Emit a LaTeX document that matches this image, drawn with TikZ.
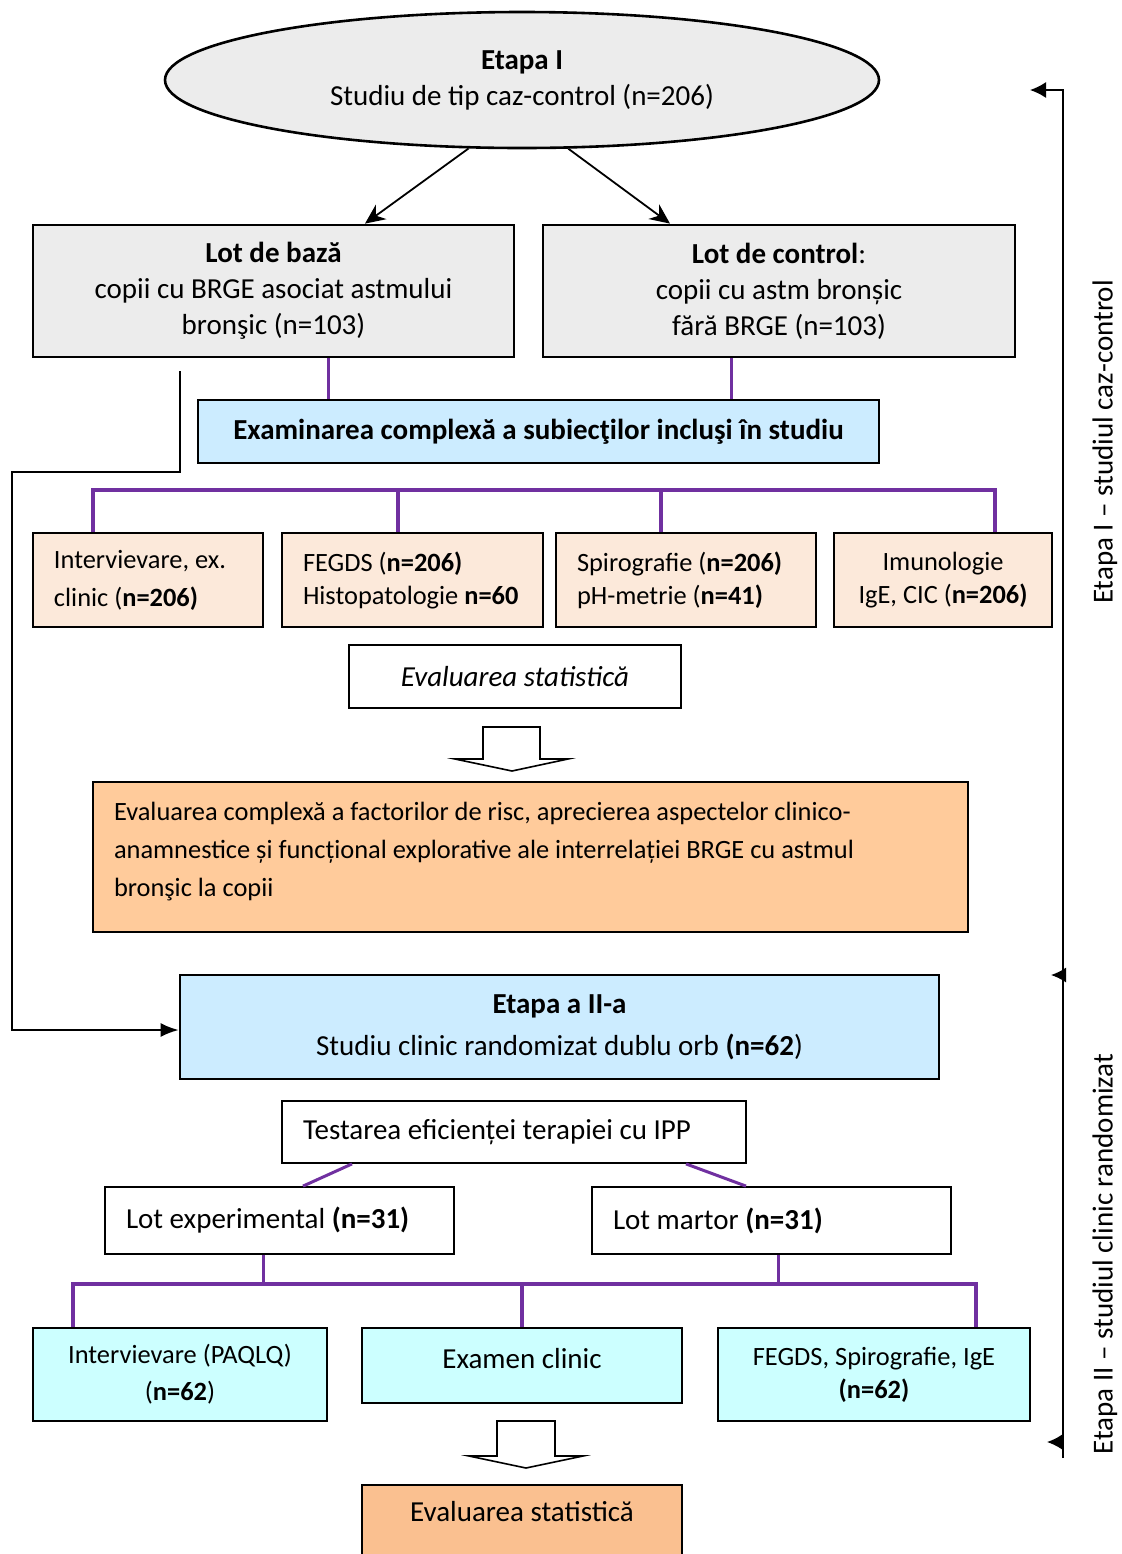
\documentclass[tikz,border=0pt]{standalone}
\usepackage{fontspec}
\setmainfont{Carlito}
\usetikzlibrary{shapes.geometric,calc,arrows.meta}
\definecolor{marble}{RGB}{236,236,236}
\definecolor{skyfill}{RGB}{204,236,255}
\definecolor{peachfill}{RGB}{252,233,218}
\definecolor{orangefill}{RGB}{255,203,155}
\definecolor{cyanfill}{RGB}{204,255,255}
\definecolor{statfill}{RGB}{250,192,144}
\definecolor{linkpurple}{RGB}{112,48,160}
\newcommand{\bigfont}{\fontsize{14.5}{18}\selectfont}
\newcommand{\smallfont}{\fontsize{13.2}{19}\selectfont}
\tikzset{
  box/.style={draw, line width=0.9pt, inner sep=0pt, align=center, font=\bigfont},
  leftbox/.style={box, align=flush left, inner xsep=10.5pt,
    execute at begin node={\spaceskip=0pt\xspaceskip=0pt\relax}},
  thickbox/.style={box, line width=1.4pt},
  purplelink/.style={draw=linkpurple, line width=1.5pt},
  purplebus/.style={draw=linkpurple, line width=2.2pt},
  blockarrow/.style={draw, line width=0.8pt, fill=white},
  sidearrow/.style={-{Latex[length=8pt,width=8pt]}, line width=0.8pt},
  splitarrow/.style={-{Stealth[length=10pt,width=9pt]}, line width=0.9pt}
}
\begin{document}
\begin{tikzpicture}[x=0.5pt,y=-0.5pt]
    \useasboundingbox (0,0) rectangle (1122,1554);
    % Etapa I
    \node[thickbox, ellipse, fill=marble, line width=1.3pt, minimum width=357pt, minimum height=68pt] (etapa1) at (522,80) {\textbf{Etapa I}\\Studiu de tip caz-control (n=206)};
    \node[thickbox, fill=marble, minimum width=240.5pt, minimum height=66pt] (lotbaza) at (273.5,291) {\textbf{Lot de bază}\\copii cu BRGE asociat astmului\\bronşic (n=103)};
    \node[thickbox, fill=marble, minimum width=236pt, minimum height=66pt] (lotcontrol) at (779,291) {\textbf{Lot de control}:\\copii cu astm bronșic\\fără BRGE (n=103)};
    \node[thickbox, fill=skyfill, minimum width=340.5pt, minimum height=31.5pt] (exam) at (538.5,431.5) {\textbf{Examinarea complexă a subiecţilor incluşi în studiu}};
    \node[leftbox, fill=peachfill, font=\smallfont, text width=94pt, minimum height=47pt] (interv) at (148,580) {Intervievare, ex.\\clinic (\textbf{n=206)}};
    \node[leftbox, fill=peachfill, font=\fontsize{13.2}{16.5}\selectfont, text width=109.5pt, minimum height=47pt] (fegds) at (412.5,580) {FEGDS (\textbf{n=206)}\\Histopatologie \textbf{n=60}};
    \node[leftbox, fill=peachfill, font=\fontsize{13.2}{16.5}\selectfont, text width=109pt, minimum height=47pt] (spiro) at (686,580) {Spirografie (\textbf{n=206)}\\pH-metrie (\textbf{n=41)}};
    \node[box, fill=peachfill, font=\fontsize{13.2}{16.5}\selectfont, minimum width=109pt, minimum height=47pt] (imuno) at (943,580) {Imunologie\\IgE, CIC (\textbf{n=206)}};
    \node[box, font=\bigfont\itshape, minimum width=166pt, minimum height=31.5pt] (evalstat) at (515,676.5) {Evaluarea statistică};
    \draw[blockarrow] (483,727) -- (540,727) -- (540,759) -- (568,759) -- (512,771) -- (455,759) -- (483,759) -- cycle;
    \node[leftbox, fill=orangefill, font=\smallfont, text width=416.5pt, minimum height=75pt] (factori) at (530.5,857) {Evaluarea complexă a factorilor de risc, aprecierea aspectelor clinico-\\anamnestice și funcțional explorative ale interrelației BRGE cu astmul\\bronşic la copii\rule[-8pt]{0pt}{0pt}};
    % Etapa II
    \node[thickbox, fill=skyfill, font=\fontsize{14.5}{21}\selectfont, minimum width=379.5pt, minimum height=52pt] (etapa2) at (559.5,1027) {\textbf{Etapa a II-a}\\Studiu clinic randomizat dublu orb \textbf{(n=62})};
    \node[leftbox, text width=211pt, minimum height=31pt] (testare) at (514,1132) {Testarea eficienței terapiei cu IPP};
    \node[leftbox, text width=153.5pt, minimum height=33.5pt] (lotexp) at (279.5,1220.5) {Lot experimental \textbf{(n=31)}};
    \node[leftbox, text width=158.5pt, minimum height=33.5pt] (lotmartor) at (771.5,1220.5) {Lot martor \textbf{(n=31)}};
    \node[box, fill=cyanfill, font=\fontsize{13.2}{18.5}\selectfont, minimum width=147pt, minimum height=46.5pt] (intervII) at (180,1374.5) {Intervievare (PAQLQ)\\(\textbf{n=62})};
    \node[box, fill=cyanfill, minimum width=160pt, minimum height=37.5pt] (examen) at (522,1365.5) {Examen clinic\rule[-7pt]{0pt}{0pt}};
    \node[box, fill=cyanfill, font=\fontsize{13.2}{16.5}\selectfont, minimum width=156pt, minimum height=46.5pt] (fegdsII) at (874,1374.5) {FEGDS, Spirografie, IgE\\\textbf{(n=62)}};
    \draw[blockarrow] (497,1421) -- (555,1421) -- (555,1456) -- (583,1456) -- (526,1468) -- (469,1456) -- (497,1456) -- cycle;
    \node[box, fill=statfill, anchor=north, minimum width=160pt, text height=18.5pt, text depth=40pt] (evalfinal) at (522,1484) {Evaluarea statistică};
    % legaturi
    \draw[splitarrow] (etapa1.232) -- ($(lotbaza.north)+(91.5,0)$);
    \draw[splitarrow] (etapa1.304) -- ($(lotcontrol.north)+(-109,0)$);
    \draw[purplelink] ($(lotbaza.south)+(54.5,0)$) coordinate (pb) -- (pb |- exam.north);
    \draw[purplelink] ($(lotcontrol.south)+(-48,0)$) coordinate (pc) -- (pc |- exam.north);
    \draw[purplebus] ($(interv.north)+(-55,0)$) -- ++(0,-42) -| ($(imuno.north)+(52,0)$);
    \draw[purplebus] ($(fegds.north)+(-14.5,0)$) -- ++(0,-42);
    \draw[purplebus] ($(spiro.north)+(-25,0)$) -- ++(0,-42);
    \coordinate (elbow) at (12,472);
    \draw[-{Latex[length=9pt,width=7pt]}, line width=0.9pt] ($(lotbaza.south)+(-93.5,13)$) |- (elbow) |- ($(etapa2.west)+(0,3)$);
    \draw[purplelink] ($(testare.south)+(-162,0)$) -- ($(lotexp.north)+(23.5,0)$);
    \draw[purplelink] ($(testare.south)+(172,0)$) -- ($(lotmartor.north)+(-25.5,0)$);
    \draw[purplelink] ($(lotexp.south)+(-16.5,0)$) -- ++(0,31);
    \draw[purplelink] ($(lotmartor.south)+(6.5,0)$) -- ++(0,31);
    \draw[purplebus] ($(intervII.north)+(-107,0)$) -- ++(0,-43) -| ($(fegdsII.north)+(102,0)$);
    \draw[purplebus] (examen.north) -- ++(0,-43);
    % etape (dreapta)
    \coordinate (sidebottom) at (1063,1458);
    \coordinate (sidetop) at (1063,90);
    \coordinate (sidetip) at (1030,90);
    \coordinate (midbase) at (1066,975);
    \coordinate (midtip) at (1051,975);
    \coordinate (lowbase) at (1063,1442);
    \coordinate (lowtip) at (1047,1442);
    \draw[sidearrow] (sidebottom) -- (sidetop) -- (sidetip);
    \draw[sidearrow, -{Latex[length=7.5pt,width=7.5pt]}] (midbase) -- (midtip);
    \draw[sidearrow, -{Latex[length=7.5pt,width=7.5pt]}] (lowbase) -- (lowtip);
    \node[rotate=90, font=\bigfont] (labelI) at (1105,442) {Etapa I – studiul caz-control};
    \node[rotate=90, font=\bigfont] (labelII) at (1105,1254) {Etapa II – studiul clinic randomizat};
\end{tikzpicture}
\end{document}
